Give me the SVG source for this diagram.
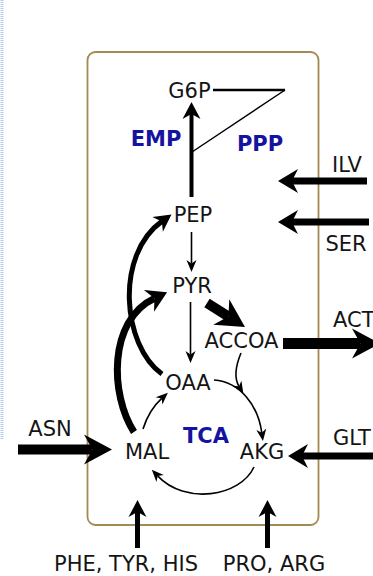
<svg xmlns="http://www.w3.org/2000/svg" width="373" height="576" viewBox="0 0 373 576">
<style>
text{font-family:"DejaVu Sans","Liberation Sans",sans-serif;font-size:21px;fill:#141414;text-anchor:middle}
.b{font-weight:bold;fill:#1414a0}
.s{text-anchor:start}
.ln{fill:none;stroke:#000;stroke-linecap:butt}
.t{stroke-width:1.6}
</style>
<defs>
<marker id="aS" viewBox="-20 -20 40 40" markerWidth="40" markerHeight="40" refX="0" refY="0" markerUnits="userSpaceOnUse" orient="auto"><path d="M8.4 0L-3.6-5L0 0L-3.6 5Z" fill="#000"/></marker>
<marker id="aM" viewBox="-20 -20 40 40" markerWidth="40" markerHeight="40" refX="0" refY="0" markerUnits="userSpaceOnUse" orient="auto"><path d="M11.9 0L-5.1-9L0 0L-5.1 9Z" fill="#000"/></marker>
<marker id="aL" viewBox="-20 -20 40 40" markerWidth="40" markerHeight="40" refX="0" refY="0" markerUnits="userSpaceOnUse" orient="auto"><path d="M14 0L-6-12L0 0L-6 12Z" fill="#000"/></marker>
<marker id="aXL" viewBox="-30 -30 60 60" markerWidth="60" markerHeight="60" refX="0" refY="0" markerUnits="userSpaceOnUse" orient="auto"><path d="M19.6 0L-8.4-15L0 0L-8.4 15Z" fill="#000"/></marker>
</defs>
<line x1="2" y1="0" x2="2" y2="440" stroke="#b3c8ec" stroke-width="3" stroke-dasharray="1 1"/>
<g id="cell"><rect x="87.5" y="52" width="231" height="473" rx="8" fill="none" stroke="#a38a52" stroke-width="1.8"/></g>
<g id="connectors">
<path class="ln" d="M191.5 197V114" stroke-width="4" marker-end="url(#aM)"/>
<path class="ln" d="M213 90H285" stroke="#333" stroke-width="2.5"/>
<path class="ln" d="M285 90L192 152" stroke="#222" stroke-width="1.5"/>
<path class="ln t" d="M191.5 232V263.6" marker-end="url(#aS)"/>
<path class="ln t" d="M190.5 302V354.6" marker-end="url(#aS)"/>
<path class="ln" d="M367 181H292" stroke-width="7" marker-end="url(#aL)"/>
<path class="ln" d="M369 222H292" stroke-width="7" marker-end="url(#aL)"/>
<path class="ln" d="M373 456H302" stroke-width="7" marker-end="url(#aL)"/>
<path class="ln" d="M137.5 548V512" stroke-width="5" marker-end="url(#aM)"/>
<path class="ln" d="M267.5 548V512" stroke-width="5" marker-end="url(#aM)"/>
<path class="ln" d="M18 449.5H92.4" stroke-width="10" marker-end="url(#aXL)"/>
<path class="ln" d="M283 343.5H360.4" stroke-width="11" marker-end="url(#aXL)"/>
<path class="ln" d="M207 303L228.4 316.5" stroke-width="10" marker-end="url(#aXL)"/>
<path class="ln" d="M162 374C122 345 115 255 161.8 221.4" stroke-width="5" marker-end="url(#aM)"/>
<path class="ln" d="M134 432C110 395 108 320 154.4 298.3" stroke-width="7" marker-end="url(#aL)"/>
<path class="ln t" d="M143 429Q149 410 161.7 398.4" marker-end="url(#aS)"/>
<path class="ln t" d="M214 380C240 382 258 405 261.8 432.8" marker-end="url(#aS)"/>
<path class="ln t" d="M241 353C236 365 234 378 239 386.3" marker-end="url(#aS)"/>
<path class="ln t" d="M254 467C240 497 185 505 157.6 475.9" marker-end="url(#aS)"/>
</g>
<g id="G6P"><text x="189.5" y="98">G6P</text></g>
<g id="EMP"><text class="b" x="156" y="146">EMP</text></g>
<g id="PPP"><text class="b" x="260" y="151">PPP</text></g>
<g id="ILV"><text x="347" y="172">ILV</text></g>
<g id="PEP"><text x="193" y="222">PEP</text></g>
<g id="SER"><text x="346" y="251">SER</text></g>
<g id="PYR"><text x="192" y="293">PYR</text></g>
<g id="ACT"><text class="s" x="333" y="327">ACT</text></g>
<g id="ACCOA"><text x="241.5" y="348">ACCOA</text></g>
<g id="OAA"><text x="188" y="390">OAA</text></g>
<g id="ASN"><text x="50" y="436">ASN</text></g>
<g id="MAL"><text x="147" y="459">MAL</text></g>
<g id="TCA"><text class="b" x="206" y="443">TCA</text></g>
<g id="AKG"><text x="262" y="459">AKG</text></g>
<g id="GLT"><text class="s" x="333" y="445">GLT</text></g>
<g id="PHE"><text x="126" y="571">PHE, TYR, HIS</text></g>
<g id="PRO"><text x="274" y="571">PRO, ARG</text></g>
</svg>
